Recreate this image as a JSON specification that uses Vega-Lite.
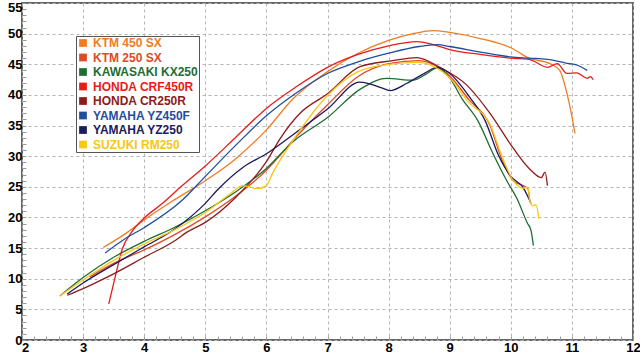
{
  "$schema": "https://vega.github.io/schema/vega-lite/v6.json",
  "width": 611,
  "height": 337,
  "autosize": {"type": "none"},
  "padding": {"left": 22, "top": 3, "right": 7, "bottom": 14},
  "background": "white",
  "config": {
    "view": {"stroke": "#666666", "strokeWidth": 2},
    "axis": {"labelFont": "Liberation Sans", "labelFontWeight": "bold", "labelFontSize": 13, "labelColor": "#000000", "domain": false, "title": null, "gridColor": "#b5b5b5", "gridDash": [3, 3], "gridWidth": 1, "tickColor": "#9a9a9a", "tickWidth": 1}
  },
  "data": {
    "values": [
      {"bike": "KTM 450 SX", "rpm": 3.33, "hp": 15.1}, {"bike": "KTM 450 SX", "rpm": 3.7, "hp": 17.4}, {"bike": "KTM 450 SX", "rpm": 4.0, "hp": 19.6}, {"bike": "KTM 450 SX", "rpm": 4.45, "hp": 22.6}, {"bike": "KTM 450 SX", "rpm": 5.0, "hp": 26.0}, {"bike": "KTM 450 SX", "rpm": 5.5, "hp": 29.6}, {"bike": "KTM 450 SX", "rpm": 6.0, "hp": 34.3}, {"bike": "KTM 450 SX", "rpm": 6.44, "hp": 39.4}, {"bike": "KTM 450 SX", "rpm": 7.0, "hp": 43.8}, {"bike": "KTM 450 SX", "rpm": 7.5, "hp": 46.8}, {"bike": "KTM 450 SX", "rpm": 8.0, "hp": 48.9}, {"bike": "KTM 450 SX", "rpm": 8.4, "hp": 50.0}, {"bike": "KTM 450 SX", "rpm": 8.73, "hp": 50.5}, {"bike": "KTM 450 SX", "rpm": 9.0, "hp": 50.2}, {"bike": "KTM 450 SX", "rpm": 9.5, "hp": 49.2}, {"bike": "KTM 450 SX", "rpm": 10.0, "hp": 47.7}, {"bike": "KTM 450 SX", "rpm": 10.3, "hp": 46.0}, {"bike": "KTM 450 SX", "rpm": 10.64, "hp": 45.1}, {"bike": "KTM 450 SX", "rpm": 10.8, "hp": 44.0}, {"bike": "KTM 450 SX", "rpm": 10.92, "hp": 40.2}, {"bike": "KTM 450 SX", "rpm": 11.0, "hp": 36.5}, {"bike": "KTM 450 SX", "rpm": 11.05, "hp": 33.7},
      {"bike": "KTM 250 SX", "rpm": 3.11, "hp": 10.3}, {"bike": "KTM 250 SX", "rpm": 3.5, "hp": 12.5}, {"bike": "KTM 250 SX", "rpm": 4.0, "hp": 14.7}, {"bike": "KTM 250 SX", "rpm": 4.5, "hp": 17.2}, {"bike": "KTM 250 SX", "rpm": 5.0, "hp": 20.1}, {"bike": "KTM 250 SX", "rpm": 5.5, "hp": 23.5}, {"bike": "KTM 250 SX", "rpm": 6.0, "hp": 27.7}, {"bike": "KTM 250 SX", "rpm": 6.5, "hp": 33.3}, {"bike": "KTM 250 SX", "rpm": 7.0, "hp": 38.4}, {"bike": "KTM 250 SX", "rpm": 7.5, "hp": 43.0}, {"bike": "KTM 250 SX", "rpm": 8.0, "hp": 45.1}, {"bike": "KTM 250 SX", "rpm": 8.5, "hp": 45.6}, {"bike": "KTM 250 SX", "rpm": 8.8, "hp": 44.6}, {"bike": "KTM 250 SX", "rpm": 9.0, "hp": 43.1}, {"bike": "KTM 250 SX", "rpm": 9.3, "hp": 39.4}, {"bike": "KTM 250 SX", "rpm": 9.66, "hp": 35.0}, {"bike": "KTM 250 SX", "rpm": 9.85, "hp": 29.6}, {"bike": "KTM 250 SX", "rpm": 10.04, "hp": 26.0}, {"bike": "KTM 250 SX", "rpm": 10.2, "hp": 25.2}, {"bike": "KTM 250 SX", "rpm": 10.28, "hp": 24.7}, {"bike": "KTM 250 SX", "rpm": 10.31, "hp": 22.8},
      {"bike": "KAWASAKI KX250", "rpm": 2.62, "hp": 7.2}, {"bike": "KAWASAKI KX250", "rpm": 3.0, "hp": 10.2}, {"bike": "KAWASAKI KX250", "rpm": 3.5, "hp": 13.5}, {"bike": "KAWASAKI KX250", "rpm": 4.0, "hp": 16.1}, {"bike": "KAWASAKI KX250", "rpm": 4.5, "hp": 18.4}, {"bike": "KAWASAKI KX250", "rpm": 5.0, "hp": 21.1}, {"bike": "KAWASAKI KX250", "rpm": 5.5, "hp": 24.2}, {"bike": "KAWASAKI KX250", "rpm": 6.0, "hp": 28.0}, {"bike": "KAWASAKI KX250", "rpm": 6.44, "hp": 32.4}, {"bike": "KAWASAKI KX250", "rpm": 7.0, "hp": 36.3}, {"bike": "KAWASAKI KX250", "rpm": 7.53, "hp": 40.9}, {"bike": "KAWASAKI KX250", "rpm": 7.97, "hp": 42.7}, {"bike": "KAWASAKI KX250", "rpm": 8.4, "hp": 42.4}, {"bike": "KAWASAKI KX250", "rpm": 8.6, "hp": 43.3}, {"bike": "KAWASAKI KX250", "rpm": 8.8, "hp": 44.4}, {"bike": "KAWASAKI KX250", "rpm": 9.0, "hp": 42.8}, {"bike": "KAWASAKI KX250", "rpm": 9.2, "hp": 39.4}, {"bike": "KAWASAKI KX250", "rpm": 9.46, "hp": 35.8}, {"bike": "KAWASAKI KX250", "rpm": 9.7, "hp": 30.6}, {"bike": "KAWASAKI KX250", "rpm": 9.95, "hp": 25.7}, {"bike": "KAWASAKI KX250", "rpm": 10.1, "hp": 23.1}, {"bike": "KAWASAKI KX250", "rpm": 10.27, "hp": 19.1}, {"bike": "KAWASAKI KX250", "rpm": 10.33, "hp": 17.9}, {"bike": "KAWASAKI KX250", "rpm": 10.37, "hp": 15.4},
      {"bike": "HONDA CRF450R", "rpm": 3.42, "hp": 5.9}, {"bike": "HONDA CRF450R", "rpm": 3.53, "hp": 10.5}, {"bike": "HONDA CRF450R", "rpm": 3.64, "hp": 14.8}, {"bike": "HONDA CRF450R", "rpm": 3.8, "hp": 17.7}, {"bike": "HONDA CRF450R", "rpm": 4.0, "hp": 19.9}, {"bike": "HONDA CRF450R", "rpm": 4.3, "hp": 22.3}, {"bike": "HONDA CRF450R", "rpm": 4.6, "hp": 25.0}, {"bike": "HONDA CRF450R", "rpm": 5.0, "hp": 28.4}, {"bike": "HONDA CRF450R", "rpm": 5.5, "hp": 33.1}, {"bike": "HONDA CRF450R", "rpm": 6.0, "hp": 37.8}, {"bike": "HONDA CRF450R", "rpm": 6.5, "hp": 41.4}, {"bike": "HONDA CRF450R", "rpm": 7.0, "hp": 44.5}, {"bike": "HONDA CRF450R", "rpm": 7.5, "hp": 46.6}, {"bike": "HONDA CRF450R", "rpm": 8.0, "hp": 48.0}, {"bike": "HONDA CRF450R", "rpm": 8.46, "hp": 48.7}, {"bike": "HONDA CRF450R", "rpm": 8.8, "hp": 48.0}, {"bike": "HONDA CRF450R", "rpm": 9.0, "hp": 47.4}, {"bike": "HONDA CRF450R", "rpm": 9.5, "hp": 46.6}, {"bike": "HONDA CRF450R", "rpm": 10.0, "hp": 46.0}, {"bike": "HONDA CRF450R", "rpm": 10.3, "hp": 45.8}, {"bike": "HONDA CRF450R", "rpm": 10.6, "hp": 44.5}, {"bike": "HONDA CRF450R", "rpm": 10.76, "hp": 45.1}, {"bike": "HONDA CRF450R", "rpm": 10.92, "hp": 43.5}, {"bike": "HONDA CRF450R", "rpm": 11.08, "hp": 43.6}, {"bike": "HONDA CRF450R", "rpm": 11.25, "hp": 42.7}, {"bike": "HONDA CRF450R", "rpm": 11.3, "hp": 43.0}, {"bike": "HONDA CRF450R", "rpm": 11.35, "hp": 42.5},
      {"bike": "HONDA CR250R", "rpm": 2.74, "hp": 7.3}, {"bike": "HONDA CR250R", "rpm": 3.0, "hp": 8.4}, {"bike": "HONDA CR250R", "rpm": 3.5, "hp": 10.8}, {"bike": "HONDA CR250R", "rpm": 4.0, "hp": 13.5}, {"bike": "HONDA CR250R", "rpm": 4.5, "hp": 16.2}, {"bike": "HONDA CR250R", "rpm": 4.7, "hp": 17.6}, {"bike": "HONDA CR250R", "rpm": 5.0, "hp": 19.2}, {"bike": "HONDA CR250R", "rpm": 5.5, "hp": 23.3}, {"bike": "HONDA CR250R", "rpm": 6.0, "hp": 29.1}, {"bike": "HONDA CR250R", "rpm": 6.22, "hp": 32.8}, {"bike": "HONDA CR250R", "rpm": 6.55, "hp": 37.0}, {"bike": "HONDA CR250R", "rpm": 7.0, "hp": 40.2}, {"bike": "HONDA CR250R", "rpm": 7.53, "hp": 44.6}, {"bike": "HONDA CR250R", "rpm": 8.07, "hp": 45.6}, {"bike": "HONDA CR250R", "rpm": 8.46, "hp": 46.1}, {"bike": "HONDA CR250R", "rpm": 8.84, "hp": 44.5}, {"bike": "HONDA CR250R", "rpm": 9.28, "hp": 41.6}, {"bike": "HONDA CR250R", "rpm": 9.66, "hp": 37.0}, {"bike": "HONDA CR250R", "rpm": 10.04, "hp": 31.3}, {"bike": "HONDA CR250R", "rpm": 10.3, "hp": 28.0}, {"bike": "HONDA CR250R", "rpm": 10.5, "hp": 26.5}, {"bike": "HONDA CR250R", "rpm": 10.56, "hp": 27.4}, {"bike": "HONDA CR250R", "rpm": 10.6, "hp": 25.2},
      {"bike": "YAMAHA YZ450F", "rpm": 3.36, "hp": 14.2}, {"bike": "YAMAHA YZ450F", "rpm": 3.7, "hp": 16.6}, {"bike": "YAMAHA YZ450F", "rpm": 4.01, "hp": 18.4}, {"bike": "YAMAHA YZ450F", "rpm": 4.62, "hp": 22.8}, {"bike": "YAMAHA YZ450F", "rpm": 5.0, "hp": 26.7}, {"bike": "YAMAHA YZ450F", "rpm": 5.5, "hp": 31.8}, {"bike": "YAMAHA YZ450F", "rpm": 6.0, "hp": 36.6}, {"bike": "YAMAHA YZ450F", "rpm": 6.5, "hp": 40.4}, {"bike": "YAMAHA YZ450F", "rpm": 7.0, "hp": 43.5}, {"bike": "YAMAHA YZ450F", "rpm": 7.5, "hp": 45.4}, {"bike": "YAMAHA YZ450F", "rpm": 8.0, "hp": 46.8}, {"bike": "YAMAHA YZ450F", "rpm": 8.5, "hp": 47.9}, {"bike": "YAMAHA YZ450F", "rpm": 8.8, "hp": 48.2}, {"bike": "YAMAHA YZ450F", "rpm": 9.0, "hp": 47.9}, {"bike": "YAMAHA YZ450F", "rpm": 9.5, "hp": 47.0}, {"bike": "YAMAHA YZ450F", "rpm": 10.0, "hp": 46.2}, {"bike": "YAMAHA YZ450F", "rpm": 10.3, "hp": 46.0}, {"bike": "YAMAHA YZ450F", "rpm": 10.6, "hp": 45.8}, {"bike": "YAMAHA YZ450F", "rpm": 10.9, "hp": 45.2}, {"bike": "YAMAHA YZ450F", "rpm": 11.1, "hp": 44.8}, {"bike": "YAMAHA YZ450F", "rpm": 11.25, "hp": 44.0},
      {"bike": "YAMAHA YZ250", "rpm": 2.74, "hp": 7.5}, {"bike": "YAMAHA YZ250", "rpm": 3.0, "hp": 9.3}, {"bike": "YAMAHA YZ250", "rpm": 3.5, "hp": 12.3}, {"bike": "YAMAHA YZ250", "rpm": 4.0, "hp": 15.2}, {"bike": "YAMAHA YZ250", "rpm": 4.47, "hp": 17.9}, {"bike": "YAMAHA YZ250", "rpm": 5.0, "hp": 22.3}, {"bike": "YAMAHA YZ250", "rpm": 5.19, "hp": 24.4}, {"bike": "YAMAHA YZ250", "rpm": 5.62, "hp": 28.2}, {"bike": "YAMAHA YZ250", "rpm": 6.0, "hp": 30.4}, {"bike": "YAMAHA YZ250", "rpm": 6.5, "hp": 34.0}, {"bike": "YAMAHA YZ250", "rpm": 7.0, "hp": 37.7}, {"bike": "YAMAHA YZ250", "rpm": 7.53, "hp": 42.1}, {"bike": "YAMAHA YZ250", "rpm": 7.9, "hp": 41.1}, {"bike": "YAMAHA YZ250", "rpm": 8.02, "hp": 40.7}, {"bike": "YAMAHA YZ250", "rpm": 8.3, "hp": 41.9}, {"bike": "YAMAHA YZ250", "rpm": 8.6, "hp": 43.6}, {"bike": "YAMAHA YZ250", "rpm": 8.79, "hp": 44.5}, {"bike": "YAMAHA YZ250", "rpm": 9.0, "hp": 43.5}, {"bike": "YAMAHA YZ250", "rpm": 9.33, "hp": 39.6}, {"bike": "YAMAHA YZ250", "rpm": 9.58, "hp": 35.8}, {"bike": "YAMAHA YZ250", "rpm": 9.8, "hp": 30.1}, {"bike": "YAMAHA YZ250", "rpm": 10.0, "hp": 26.7}, {"bike": "YAMAHA YZ250", "rpm": 10.2, "hp": 24.9}, {"bike": "YAMAHA YZ250", "rpm": 10.33, "hp": 22.3},
      {"bike": "SUZUKI RM250", "rpm": 2.62, "hp": 7.2}, {"bike": "SUZUKI RM250", "rpm": 3.0, "hp": 9.8}, {"bike": "SUZUKI RM250", "rpm": 3.5, "hp": 13.0}, {"bike": "SUZUKI RM250", "rpm": 4.0, "hp": 15.7}, {"bike": "SUZUKI RM250", "rpm": 4.5, "hp": 18.0}, {"bike": "SUZUKI RM250", "rpm": 5.0, "hp": 20.8}, {"bike": "SUZUKI RM250", "rpm": 5.4, "hp": 23.8}, {"bike": "SUZUKI RM250", "rpm": 5.62, "hp": 25.2}, {"bike": "SUZUKI RM250", "rpm": 5.85, "hp": 24.7}, {"bike": "SUZUKI RM250", "rpm": 6.0, "hp": 25.2}, {"bike": "SUZUKI RM250", "rpm": 6.1, "hp": 27.2}, {"bike": "SUZUKI RM250", "rpm": 6.5, "hp": 33.5}, {"bike": "SUZUKI RM250", "rpm": 7.0, "hp": 39.9}, {"bike": "SUZUKI RM250", "rpm": 7.5, "hp": 43.8}, {"bike": "SUZUKI RM250", "rpm": 8.0, "hp": 45.0}, {"bike": "SUZUKI RM250", "rpm": 8.5, "hp": 45.3}, {"bike": "SUZUKI RM250", "rpm": 8.8, "hp": 44.3}, {"bike": "SUZUKI RM250", "rpm": 9.0, "hp": 42.8}, {"bike": "SUZUKI RM250", "rpm": 9.3, "hp": 38.9}, {"bike": "SUZUKI RM250", "rpm": 9.66, "hp": 35.2}, {"bike": "SUZUKI RM250", "rpm": 9.85, "hp": 30.1}, {"bike": "SUZUKI RM250", "rpm": 10.04, "hp": 26.0}, {"bike": "SUZUKI RM250", "rpm": 10.2, "hp": 24.8}, {"bike": "SUZUKI RM250", "rpm": 10.28, "hp": 24.9}, {"bike": "SUZUKI RM250", "rpm": 10.31, "hp": 22.8}, {"bike": "SUZUKI RM250", "rpm": 10.36, "hp": 21.9}, {"bike": "SUZUKI RM250", "rpm": 10.41, "hp": 22.1}, {"bike": "SUZUKI RM250", "rpm": 10.46, "hp": 19.8}
    ]
  },
  "mark": {"type": "line", "strokeWidth": 1.3, "clip": true, "interpolate": "monotone"},
  "encoding": {
    "x": {
      "field": "rpm", "type": "quantitative",
      "scale": {"domain": [2, 12], "nice": false, "zero": false},
      "axis": {
        "values": [2, 2.2, 2.4, 2.6, 2.8, 3, 3.2, 3.4, 3.6, 3.8, 4, 4.2, 4.4, 4.6, 4.8, 5, 5.2, 5.4, 5.6, 5.8, 6, 6.2, 6.4, 6.6, 6.8, 7, 7.2, 7.4, 7.6, 7.8, 8, 8.2, 8.4, 8.6, 8.8, 9, 9.2, 9.4, 9.6, 9.8, 10, 10.2, 10.4, 10.6, 10.8, 11, 11.2, 11.4, 11.6, 11.8, 12],
        "labelExpr": "abs(datum.value - round(datum.value)) < 0.001 ? format(datum.value, 'd') : ''",
        "labelPadding": 5,
        "labelFlush": false,
        "labelOffset": {"condition": {"test": "datum.value == 2", "value": 3}, "value": 0},
        "gridOpacity": {"condition": {"test": "abs(datum.value - round(datum.value)) < 0.001", "value": 1}, "value": 0},
        "tickSize": -4
      }
    },
    "y": {
      "field": "hp", "type": "quantitative",
      "scale": {"domain": [0, 55], "nice": false},
      "axis": {
        "values": [0, 1, 2, 3, 4, 5, 6, 7, 8, 9, 10, 11, 12, 13, 14, 15, 16, 17, 18, 19, 20, 21, 22, 23, 24, 25, 26, 27, 28, 29, 30, 31, 32, 33, 34, 35, 36, 37, 38, 39, 40, 41, 42, 43, 44, 45, 46, 47, 48, 49, 50, 51, 52, 53, 54, 55],
        "labelExpr": "datum.value % 5 == 0 ? format(datum.value, 'd') : ''",
        "labelPadding": 4,
        "labelFlush": false,
        "labelOffset": {"condition": {"test": "datum.value == 55", "value": 4}, "value": 0},
        "gridOpacity": {"condition": {"test": "datum.value % 5 == 0", "value": 1}, "value": 0},
        "tickSize": -4
      }
    },
    "color": {
      "field": "bike", "type": "nominal",
      "scale": {
        "domain": ["KTM 450 SX", "KTM 250 SX", "KAWASAKI KX250", "HONDA CRF450R", "HONDA CR250R", "YAMAHA YZ450F", "YAMAHA YZ250", "SUZUKI RM250"],
        "range": ["#F27B22", "#DE4A26", "#1E6E32", "#E81B1B", "#8E1B1B", "#1F4E9E", "#1B1A5A", "#F7C616"]
      },
      "legend": {
        "title": null,
        "orient": "none",
        "legendX": 54,
        "legendY": 33,
        "padding": 1,
        "strokeColor": "#555555",
        "fillColor": "#ffffff",
        "symbolType": "square",
        "symbolSize": 60,
        "symbolStrokeWidth": 0,
        "labelFont": "Liberation Sans",
        "labelFontWeight": "bold",
        "labelFontSize": 12,
        "labelOffset": 4,
        "rowPadding": 2.5,
        "labelLimit": 200,
        "encode": {
          "symbols": {"update": {"fill": {"scale": "color", "field": "value"}, "opacity": {"value": 1}}},
          "labels": {"update": {"fill": {"scale": "color", "field": "value"}}}
        }
      }
    }
  }
}
